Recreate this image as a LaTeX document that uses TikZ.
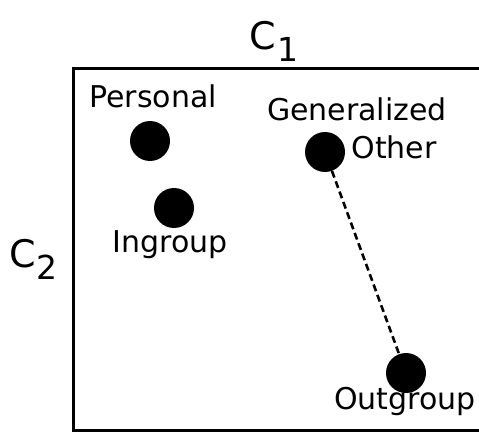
\documentclass[tikz,border=0pt]{standalone}
\usepackage{fontspec}
\setmainfont{DejaVu Sans}
\usetikzlibrary{positioning}

\begin{document}
\begin{tikzpicture}[
    x=1pt, y=-1pt,
    dot/.style={circle, fill=black, inner sep=0pt, minimum size=40pt},
    lbl/.style={anchor=base, inner sep=0pt, font=\fontsize{30}{32}\selectfont},
    axlbl/.style={anchor=base west, inner sep=0pt, font=\fontsize{38}{40}\selectfont},
    link/.style={line width=2.6pt, dash pattern=on 7pt off 4pt}
]
    \useasboundingbox (0,0) rectangle (479,433);

    % Frame (open to the right)
    \draw[line width=3pt] (481,69) -- (73,69) -- (73,430) -- (481,430);

    % Axis labels
    \node[axlbl] (cone) at (249,50)
        {C\kern2pt\raisebox{-12pt}{\fontsize{33}{34}\selectfont 1}};
    \node[axlbl] (ctwo) at (9,267)
        {C\kern1pt\raisebox{-12pt}{\fontsize{33}{34}\selectfont 2}};

    % Points
    \node[dot] (personal) at (150,141) {};
    \node[dot] (ingroup) at (174,208) {};
    \node[dot] (genother) at (325,152) {};
    \node[dot] (outgroup) at (406,373) {};

    % Point labels
    \node[lbl] (personallbl) at (153,108) {Personal};
    \node[lbl] (ingrouplbl) at (170,252) {Ingroup};
    \node[lbl] (generallbl) at (357,121) {Generalized};
    \node[lbl] (otherlbl) at (394,158) {Other};
    \node[lbl] (outgrouplbl) at (405,409) {Outgroup};

    % Link
    \draw[link] (genother) -- (outgroup);
\end{tikzpicture}
\end{document}
